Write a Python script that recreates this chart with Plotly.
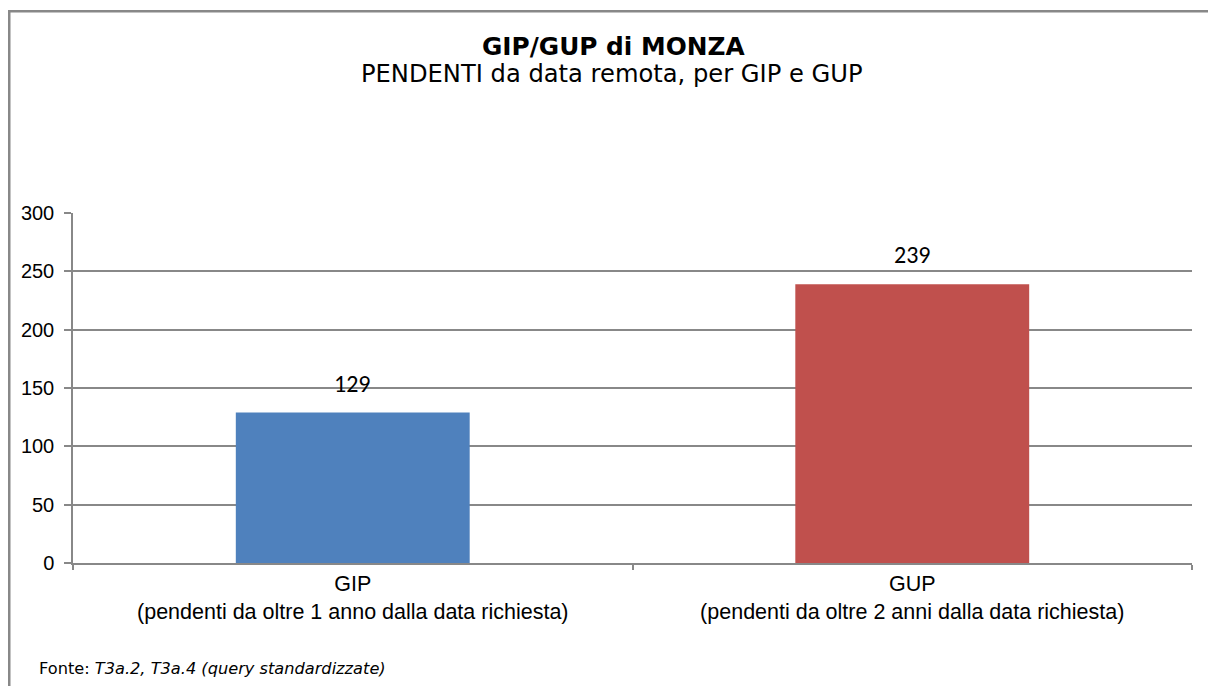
import plotly.graph_objects as go

categories = ["GIP<br>(pendenti da oltre 1 anno dalla data richiesta)",
              "GUP<br>(pendenti da oltre 2 anni dalla data richiesta)"]
values = [129, 239]
bar_colors = ["#4F81BD", "#C0504D"]
y_ticks = [0, 50, 100, 150, 200, 250, 300]

title = "<b>GIP/GUP di MONZA</b>"
subtitle = "PENDENTI da data remota, per GIP e GUP"
source = "Fonte: <i>T3a.2, T3a.4 (query standardizzate)</i>"

W, H = 1208, 686
L, R, T, B = 73, 16, 213, 123
pw, ph = W - L - R, H - T - B

def px_x(px):
    return (px - L) / pw

def px_y(py):
    return (H - B - py) / ph

fig = go.Figure()
fig.add_trace(go.Bar(
    x=categories, y=values, width=0.418,
    marker=dict(color=bar_colors, line=dict(width=0)),
    hoverinfo="skip", showlegend=False,
))

for c, v in zip(categories, values):
    fig.add_annotation(x=c, y=v, text=str(v), showarrow=False,
                       yanchor="bottom", yshift=13,
                       font=dict(family="Calibri, Carlito, Lato", size=24, color="#000000"))

fig.add_annotation(xref="paper", yref="paper", x=px_x(613), y=px_y(46),
                   text=title, showarrow=False, xanchor="center", yanchor="middle",
                   font=dict(family="Verdana, DejaVu Sans", size=24.8, color="#000000"))
fig.add_annotation(xref="paper", yref="paper", x=px_x(612), y=px_y(74),
                   text=subtitle, showarrow=False, xanchor="center", yanchor="middle",
                   font=dict(family="Verdana, DejaVu Sans", size=24.2, color="#000000"))
fig.add_annotation(xref="paper", yref="paper", x=px_x(37), y=px_y(668),
                   text=source, showarrow=False, xanchor="left", yanchor="middle",
                   font=dict(family="Verdana, DejaVu Sans", size=16.2, color="#000000"))

# chart-area border: a large frame whose right and bottom edges lie outside the picture
fig.add_annotation(xref="paper", yref="paper", x=px_x(8), y=px_y(10),
                   xanchor="left", yanchor="top", text=" ", showarrow=False,
                   width=1400, height=900, borderpad=0, borderwidth=2.5,
                   bordercolor="#888888", bgcolor="rgba(0,0,0,0)")

fig.update_layout(
    width=W, height=H,
    margin=dict(l=L, r=R, t=T, b=B, pad=0),
    paper_bgcolor="white", plot_bgcolor="white",
    bargap=0.582,
    font=dict(family="Arial, Liberation Sans", color="#000000"),
)
fig.update_xaxes(
    type="category", showgrid=False, showline=True, linecolor="#888888", linewidth=2,
    ticks="outside", tickson="boundaries", ticklen=5, tickcolor="#888888", tickwidth=1.5,
    tickfont=dict(family="Arial, Liberation Sans", size=21.5, color="#000000"),
    fixedrange=True,
)
fig.update_yaxes(
    range=[0, 300], tickvals=y_ticks, showgrid=True, gridcolor="#888888", gridwidth=1.5,
    showline=True, linecolor="#888888", linewidth=1.5, zeroline=False,
    ticks="outside", ticklen=7, tickcolor="#888888", tickwidth=1.5,
    ticklabelstandoff=6,
    tickfont=dict(family="Arial, Liberation Sans", size=20, color="#000000"),
    fixedrange=True,
)

fig.write_html("out.html", config={"displayModeBar": False},
               post_script="document.body.style.margin='0px';document.body.style.overflow='hidden';")
